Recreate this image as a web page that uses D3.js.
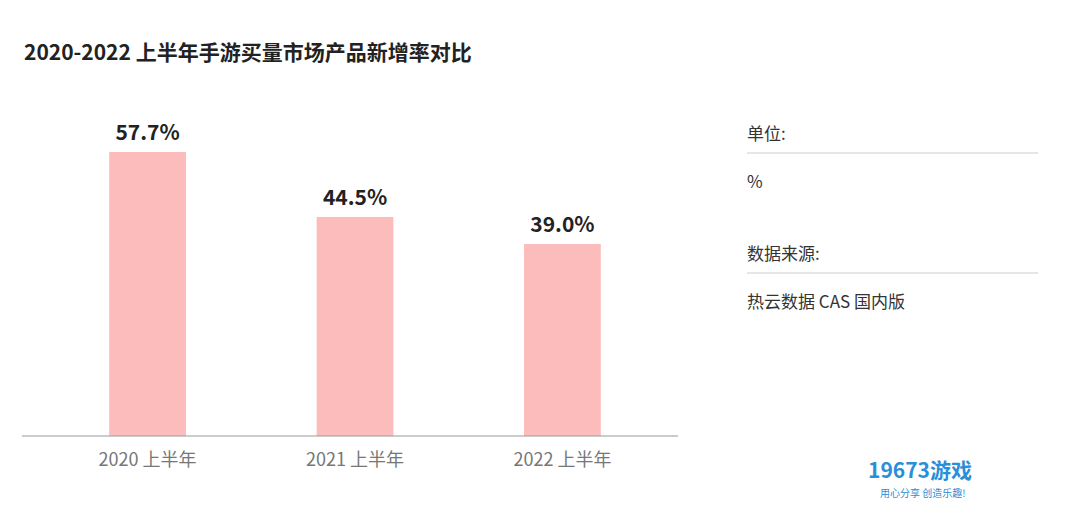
<!DOCTYPE html>
<html><head><meta charset="utf-8">
<script src="https://cdn.jsdelivr.net/npm/d3@7"></script>
<style>body{margin:0;background:#fff;font-family:"Noto Sans CJK SC","Noto Sans",sans-serif;}</style>
</head><body>
<script>
var categories = ["2020 上半年", "2021 上半年", "2022 上半年"];
var values = [57.7, 44.5, 39.0];
var infoLabels = ["单位:", "数据来源:"];
var infoValues = ["%", "热云数据 CAS 国内版"];

var svg = d3.select("body").append("svg").attr("width", 1076).attr("height", 516);

svg.append("text").attr("x", 24).attr("y", 60)
   .attr("font-size", 21).attr("font-weight", "bold").attr("fill", "#222")
   .text("2020-2022 上半年手游买量市场产品新增率对比");

var x = d3.scaleBand().domain(categories).range([47, 663]).paddingInner(0.63).paddingOuter(0.3);
var y = d3.scaleLinear().domain([0, 57.7]).range([436, 152]);

var chart = svg.append("g");
chart.selectAll("rect").data(values).enter().append("rect")
   .attr("x", function(d,i){ return x(categories[i]); })
   .attr("y", function(d){ return y(d); })
   .attr("width", x.bandwidth())
   .attr("height", function(d){ return y(0) - y(d); })
   .attr("fill", "#fdbcbc");

chart.selectAll("text.val").data(values).enter().append("text")
   .attr("class", "val")
   .attr("x", function(d,i){ return x(categories[i]) + x.bandwidth()/2; })
   .attr("y", function(d){ return y(d) - 12; })
   .attr("text-anchor", "middle").attr("font-size", 21).attr("font-weight", "bold").attr("fill", "#222")
   .text(function(d){ return d.toFixed(1) + "%"; });

var axis = svg.append("g").attr("transform", "translate(0,436)")
   .call(d3.axisBottom(x).tickSize(0).tickPadding(17));
axis.select(".domain").attr("stroke", "#999").attr("d", "M22,0H678");
axis.selectAll("text").attr("font-size", 18).attr("fill", "#777").attr("font-family", "Noto Sans CJK SC");

var info = svg.append("g");
infoLabels.forEach(function(t, i){
  var top = 133 + i*120;
  info.append("text").attr("x", 747).attr("y", top + 7).attr("font-size", 17).attr("fill", "#333").text(t);
  info.append("line").attr("x1", 747).attr("x2", 1038).attr("y1", top + 20).attr("y2", top + 20)
      .attr("stroke", "#ccc");
  info.append("text").attr("x", 747).attr("y", top + 55).attr("font-size", 17).attr("fill", "#333").text(infoValues[i]);
});

svg.append("text").attr("x", 868).attr("y", 478).attr("font-size", 21).attr("font-weight", "bold")
   .attr("fill", "#2a8fd6").text("19673游戏");
svg.append("text").attr("x", 880).attr("y", 497).attr("font-size", 10).attr("fill", "#2a8fd6").text("用心分享  创造乐趣!");
</script>
</body></html>
